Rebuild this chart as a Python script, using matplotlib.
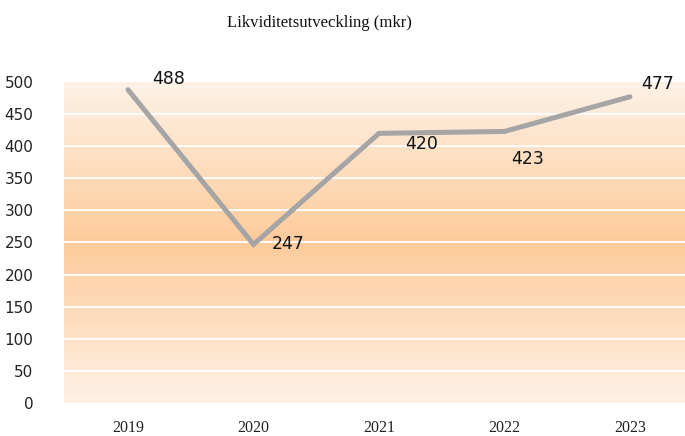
import numpy as np
import matplotlib
matplotlib.use("Agg")
import matplotlib.pyplot as plt
from matplotlib.colors import LinearSegmentedColormap

# data
years = ["2019", "2020", "2021", "2022", "2023"]
likviditet = [488, 247, 420, 423, 477]
yticks = list(range(0, 501, 50))

# label offsets (points) relative to each point
label_offsets = [(29, 8), (25, 0), (31, -8), (17, -20), (20, 9)]

W, H, DPI = 685, 436, 100
fig = plt.figure(figsize=(W / DPI, H / DPI), dpi=DPI)
ax = fig.add_axes([64 / W, 1 - 403 / H, (W - 64) / W, (403 - 82) / H])

# category axis: centre of 2019 at px 128, spacing 125.5 px
x = np.arange(len(years))
x_left = (64 - 128) / 125.5
x_right = (W - 128) / 125.5
ax.set_xlim(x_left, x_right)
ax.set_ylim(0, 500)

# vertical peach gradient background
grad = LinearSegmentedColormap.from_list(
    "peach", [(0.0, "#fff1e6"), (0.5, "#fdcb9a"), (1.0, "#fef2e7")])
ax.imshow(np.linspace(0, 1, 256).reshape(-1, 1), aspect="auto", cmap=grad,
          extent=[x_left, x_right, 0, 500], origin="lower", zorder=0)

for yv in yticks[1:-1]:
    ax.axhline(yv, color="white", lw=1.3, zorder=1)

ax.plot(x, likviditet, color="#a5a5a5", lw=3.6, solid_capstyle="round",
        solid_joinstyle="miter", zorder=3)

for xi, v, off in zip(x, likviditet, label_offsets):
    ax.annotate(str(v), (xi, v), xytext=off, textcoords="offset points",
                ha="center", va="center", fontsize=12.5, color="#111111",
                family="DejaVu Sans", zorder=4)

for s in ax.spines.values():
    s.set_visible(False)
ax.tick_params(length=0)
ax.set_yticks(yticks)
ax.set_yticklabels([str(t) for t in yticks], fontsize=11, family="DejaVu Sans",
                   color="#222222")
ax.tick_params(axis="y", pad=22)
ax.set_xticks(x)
ax.set_xticklabels(years, fontsize=11.5, family="Liberation Serif", color="#222222")
ax.tick_params(axis="x", pad=12)

fig.text(319 / W, 1 - 23 / H, "Likviditetsutveckling (mkr)", ha="center",
         va="center", fontsize=12, family="Liberation Serif", color="#111111")

fig.savefig("out.png", dpi=DPI)
